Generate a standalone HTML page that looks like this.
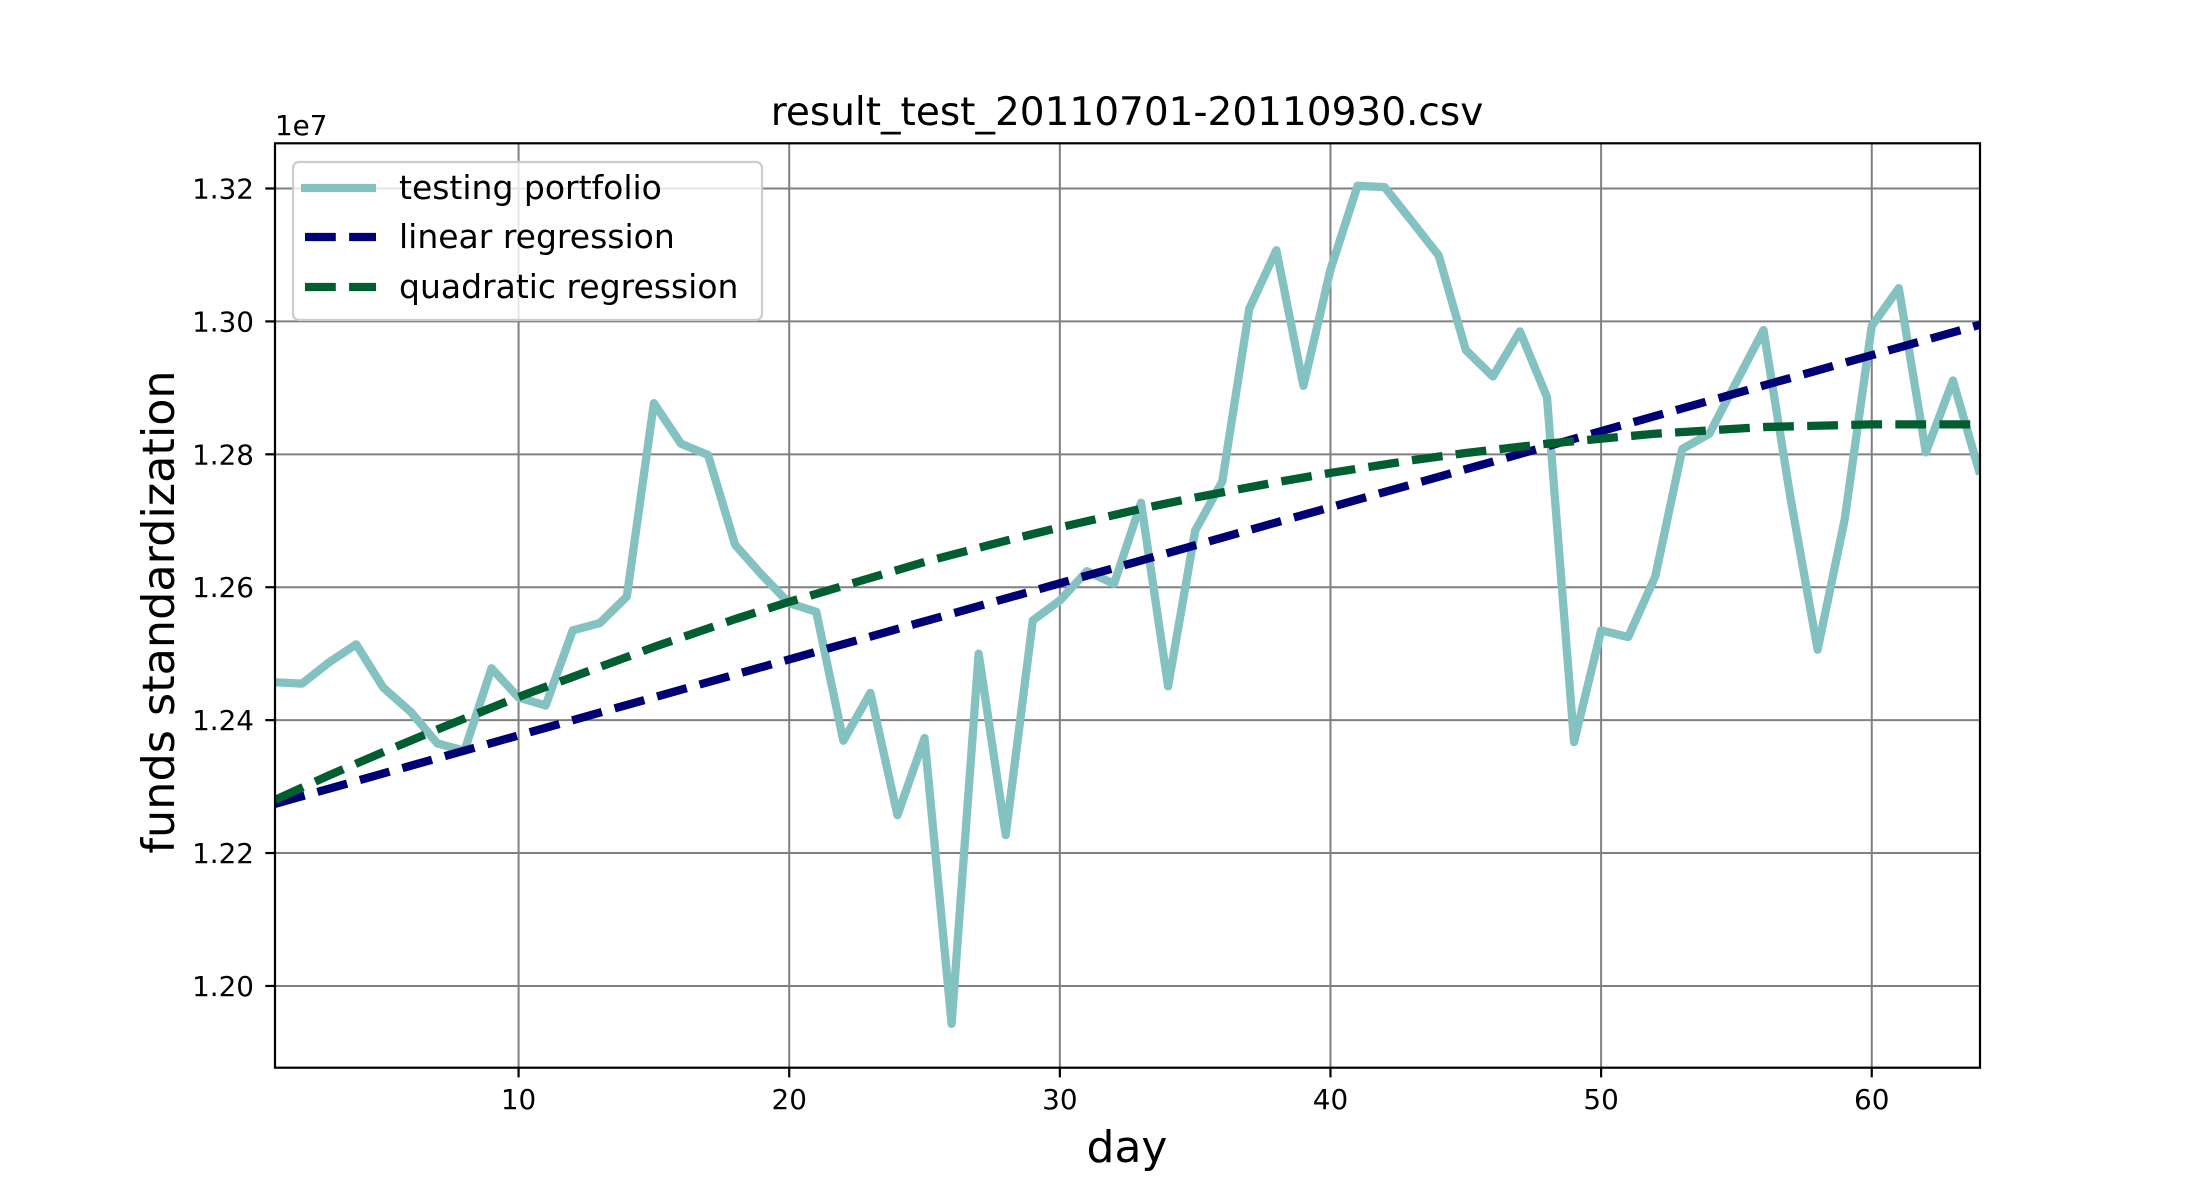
<!DOCTYPE html>
<html><head><meta charset="utf-8"><style>
html,body{margin:0;padding:0;background:#fff;}
svg{display:block;font-family:"DejaVu Sans","Liberation Sans",sans-serif;}
</style></head><body>
<svg id="chart" width="2200" height="1200" viewBox="0 0 2200 1200" xmlns="http://www.w3.org/2000/svg">
<rect width="2200" height="1200" fill="#fff"/>
<g id="grid"></g>
<g id="series"></g>
<g id="axes"></g>
<text x="1127" y="125" text-anchor="middle" font-size="39" fill="#000">result_test_20110701-20110930.csv</text>
<text x="275" y="135" font-size="27.8" fill="#000">1e7</text>
<text x="1127" y="1162" text-anchor="middle" font-size="44" fill="#000">day</text>
<text transform="translate(174,612) rotate(-90)" text-anchor="middle" font-size="44.5" fill="#000">funds standardization</text>
<g id="legend">
<rect x="293" y="162" width="469" height="158" rx="6" fill="#fff" fill-opacity="0.8" stroke="#cccccc" stroke-width="2.2"/>
<line x1="301" y1="188" x2="376" y2="188" stroke="#84c1c1" stroke-width="8.3"/>
<text x="399" y="199" font-size="33">testing portfolio</text>
<line x1="305" y1="237" x2="376" y2="237" stroke="#000075" stroke-width="8.3" stroke-dasharray="30.8 13.3"/>
<text x="399" y="248" font-size="33">linear regression</text>
<line x1="305" y1="287" x2="376" y2="287" stroke="#005e30" stroke-width="8.3" stroke-dasharray="30.8 13.3"/>
<text x="399" y="298" font-size="33">quadratic regression</text>
</g>
</svg>
<script>
const testingValues = [1.2457,1.2455,1.2487,1.2514,1.2449,1.2413,1.2365,1.2354,1.2478,1.2434,1.2422,1.2535,1.2546,1.2586,1.2877,1.2816,1.2799,1.2664,1.2618,1.2576,1.2563,1.2369,1.2441,1.2257,1.2373,1.1943,1.2500,1.2227,1.2550,1.2580,1.2624,1.2605,1.2727,1.2451,1.2685,1.2759,1.3019,1.3107,1.2903,1.3078,1.3204,1.3202,1.3151,1.3099,1.2957,1.2917,1.2985,1.2886,1.2367,1.2535,1.2525,1.2616,1.2808,1.2831,1.2909,1.2987,1.2734,1.2506,1.2702,1.2993,1.3050,1.2803,1.2911,1.2770];
const linearDays = [1,64];
const linearValues = [1.2274,1.2995];
const quadDays = [1,3,5,7,10,12,15,18,20,23,25,28,30,33,35,38,40,43,45,48,52,56,60,64];
const quadValues = [1.2280,1.2317,1.2352,1.2386,1.2435,1.2465,1.2510,1.2552,1.2578,1.2614,1.2638,1.2670,1.2690,1.2718,1.2735,1.2758,1.2772,1.2791,1.2802,1.2816,1.2831,1.2841,1.2845,1.2845];
const xTicks = [10,20,30,40,50,60];
const yTicks = [1.20,1.22,1.24,1.26,1.28,1.30,1.32];
const yTickLabels = ["1.20","1.22","1.24","1.26","1.28","1.30","1.32"];

const L=275,R=1980,T=143.3,B=1067.7;
const xMin=1,xMax=64,yMin=1.1877,yMax=1.3268;
const xs=d=>L+(d-xMin)/(xMax-xMin)*(R-L);
const ys=v=>B-(v-yMin)/(yMax-yMin)*(B-T);
const NS="http://www.w3.org/2000/svg";
function mk(tag,attrs,parent){const e=document.createElementNS(NS,tag);for(const k in attrs)e.setAttribute(k,attrs[k]);parent.appendChild(e);return e;}
const grid=document.getElementById('grid'),axes=document.getElementById('axes'),series=document.getElementById('series');

xTicks.forEach(t=>{
  const g=mk('line',{x1:xs(t),x2:xs(t),y1:T,y2:B,stroke:'#808080','stroke-width':2},grid);
  
  
  const tk=mk('line',{x1:xs(t),x2:xs(t),y1:B,y2:B+9.7,stroke:'#000','stroke-width':2.2},axes);
  
  
  const tx=mk('text',{x:xs(t),y:1109,'text-anchor':'middle','font-size':27.8},axes);
  tx.textContent=t;
  
  
});
yTicks.forEach((t,i)=>{
  const g=mk('line',{x1:L,x2:R,y1:ys(t),y2:ys(t),stroke:'#808080','stroke-width':2},grid);
  
  
  const tk=mk('line',{x1:L-9.7,x2:L,y1:ys(t),y2:ys(t),stroke:'#000','stroke-width':2.2},axes);
  
  
  const tx=mk('text',{x:254,y:ys(t)+10,'text-anchor':'end','font-size':27.8},axes);
  tx.textContent=yTickLabels[i];
  
  
});
const frame=mk('rect',{x:L,y:T,width:R-L,height:B-T,fill:'none',stroke:'#000','stroke-width':2.2},axes);



const clip=mk('clipPath',{id:'pc'},document.getElementById('chart'));
mk('rect',{x:L,y:T,width:R-L,height:B-T},clip);

const p1=mk('polyline',{points:testingValues.map((v,i)=>xs(i+1)+','+ys(v)).join(' '),fill:'none',stroke:'#84c1c1','stroke-width':8.3,'stroke-linejoin':'round','clip-path':'url(#pc)'},series);


const p2=mk('polyline',{points:linearDays.map((d,i)=>xs(d)+','+ys(linearValues[i])).join(' '),fill:'none',stroke:'#000075','stroke-width':8.3,'stroke-dasharray':'30.8 13.3','clip-path':'url(#pc)'},series);


const p3=mk('polyline',{points:quadDays.map((d,i)=>xs(d)+','+ys(quadValues[i])).join(' '),fill:'none',stroke:'#005e30','stroke-width':8.3,'stroke-dasharray':'30.8 13.3','clip-path':'url(#pc)'},series);


</script>
</body></html>
